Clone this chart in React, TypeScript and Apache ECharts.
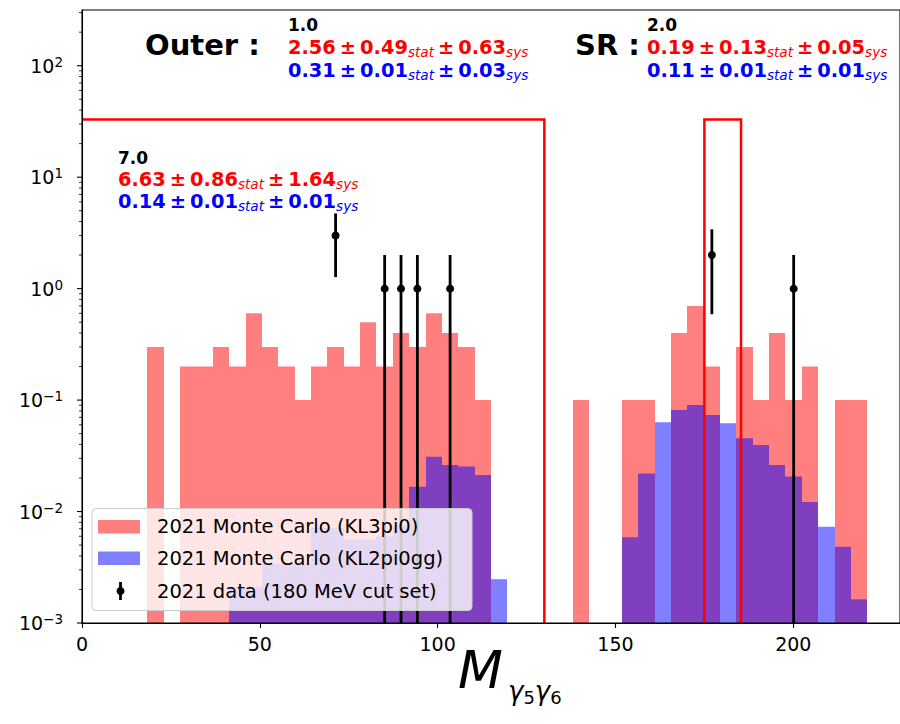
import React, { useEffect, useRef } from "react";
import * as echarts from "echarts";

// ---------- data ----------
const BIN_WIDTH = 4.6; // 50 bins over 0..230
const KL3PI0 = [
  0, 0, 0, 0, 0.3, 0, 0.2, 0.2, 0.3, 0.2,
  0.6, 0.3, 0.2, 0.1, 0.2, 0.3, 0.2, 0.5, 0.2, 0.4,
  0.3, 0.6, 0.4, 0.3, 0.1, 0, 0, 0, 0, 0,
  0.1, 0, 0, 0.1, 0.1, 0, 0.4, 0.7, 0.2, 0,
  0.3, 0.1, 0.4, 0.1, 0.2, 0, 0.1, 0.1, 0, 0,
];
const KL2PI0GG = [
  0, 0, 0, 0, 0, 0, 0, 0, 0, 0.0021,
  0.0021, 0.0034, 0.0034, 0.0034, 0.0071, 0.0071, 0.0056, 0.0056, 0.006, 0.0075,
  0.0167, 0.0311, 0.0262, 0.0253, 0.0213, 0.00247, 0, 0, 0, 0,
  0, 0, 0, 0.00587, 0.022, 0.0632, 0.0815, 0.0904, 0.0735, 0.0619,
  0.0454, 0.0395, 0.0262, 0.0206, 0.0122, 0.00731, 0.00484, 0.00163, 0, 0,
];
const DATA_X = [71.3, 85.1, 89.7, 94.3, 103.5, 177.1, 200.1];
const DATA_Y = [3, 1, 1, 1, 1, 2, 1];
const DATA_ERR = [1.73, 1, 1, 1, 1, 1.41, 1];
const REGIONS = [
  [0, 130],
  [175, 185.3],
];
const REGION_TOP = 33;
const X_MIN = 0;
const X_MAX = 230;
const X_INTERVAL = 50;
const Y_MIN = 0.001;
const Y_MAX = 316.2278;
const Y_MAJOR = [0.001, 0.01, 0.1, 1, 10, 100];
const Y_MINOR_MULT = [2, 3, 4, 5, 6, 7, 8, 9];
const LEGEND_LABELS = [
  "2021 Monte Carlo (KL3pi0)",
  "2021 Monte Carlo (KL2pi0gg)",
  "2021 data (180 MeV cut set)",
];

const FONT = "DejaVu Sans";
const RED_FILL = "rgba(255,0,0,0.5)";
const BLUE_FILL = "rgba(0,0,255,0.5)";

function histData(values: number[]) {
  const out: number[][] = [];
  values.forEach((v, i) => {
    if (v > 0) out.push([i * BIN_WIDTH, (i + 1) * BIN_WIDTH, v]);
  });
  return out;
}

function histSeries(name: string, values: number[], color: string, z: number) {
  return {
    name,
    type: "custom",
    z,
    clip: false,
    encode: { x: [0, 1], y: 2 },
    data: histData(values),
    renderItem: (params: any, api: any) => {
      const p0 = api.coord([api.value(0), api.value(2)]);
      const p1 = api.coord([api.value(1), Y_MIN]);
      const x0 = Math.round(p0[0]);
      const x1 = Math.round(p1[0]);
      return {
        type: "rect",
        shape: { x: x0, y: p0[1], width: x1 - x0, height: p1[1] - p0[1] },
        style: { fill: color },
      };
    },
  };
}

function numberLine(parts: string[], color: string) {
  return {
    text: `{n|${parts[0]}}{pm|±}{n|${parts[1]}}{s|stat}{pm|±}{n|${parts[2]}}{s|sys}`,
    rich: {
      n: { fontFamily: FONT, fontWeight: "bold", fontSize: 19.4, lineHeight: 24, fill: color },
      pm: { fontFamily: FONT, fontWeight: "bold", fontSize: 19.4, lineHeight: 24, fill: color, padding: [0, 4, 0, 4] },
      s: { fontFamily: FONT, fontStyle: "italic", fontSize: 13.6, lineHeight: 12, verticalAlign: "bottom", fill: color },
    },
  };
}

function textEl(x: number, y: number, style: any) {
  return {
    type: "text",
    x,
    y,
    z: 100,
    style: { align: "left", verticalAlign: "top", textAlign: "left", textVerticalAlign: "top", ...style },
  };
}

function plainBold(x: number, y: number, text: string, size: number) {
  return textEl(x, y, {
    text,
    fill: "#000",
    fontFamily: FONT,
    fontWeight: "bold",
    fontSize: size,
    lineHeight: Math.round(size * 1.2),
  });
}

export default function App() {
  const ref = useRef<HTMLDivElement>(null);

  useEffect(() => {
    if (!ref.current) return;
    const chart = echarts.init(ref.current, null, { renderer: "svg" });

    const minorTicks: number[][] = [];
    Y_MAJOR.forEach((d) => {
      Y_MINOR_MULT.forEach((m) => {
        const v = d * m;
        if (v < Y_MAX) minorTicks.push([0, v, 3]);
      });
    });
    const majorTicks = Y_MAJOR.map((v) => [0, v, 5]);

    const option: any = {
      animation: false,
      backgroundColor: "#fff",
      grid: {
        left: 82,
        top: 10,
        width: 821,
        height: 613,
        show: true,
        borderColor: "#000",
        borderWidth: 1.1,
        z: 50,
      },
      xAxis: {
        type: "value",
        min: X_MIN,
        max: X_MAX,
        interval: X_INTERVAL,
        z: 60,
        axisLine: { show: true, lineStyle: { color: "#000", width: 1.1 } },
        axisTick: { show: true, inside: false, length: 5, lineStyle: { color: "#000", width: 1.1 } },
        splitLine: { show: false },
        axisLabel: {
          color: "#000",
          fontFamily: FONT,
          fontSize: 19,
          lineHeight: 20,
          margin: 11,
          showMaxLabel: false,
          formatter: (v: number) => (v % X_INTERVAL === 0 ? String(v) : ""),
        },
      },
      yAxis: {
        type: "log",
        logBase: 10,
        min: Y_MIN,
        max: Y_MAX,
        z: 60,
        axisLine: { show: true, lineStyle: { color: "#000", width: 1.1 } },
        axisTick: { show: false },
        minorTick: { show: false },
        splitLine: { show: false },
        axisLabel: {
          margin: 19,
          formatter: (v: number) => {
            const e = Math.log10(v);
            const r = Math.round(e);
            if (Math.abs(e - r) > 0.01) return "";
            const exp = r < 0 ? "\u2212" + String(-r) : String(r);
            return `{b|10}{s|${exp}}`;
          },
          rich: {
            b: { color: "#000", fontFamily: FONT, fontSize: 19, lineHeight: 22 },
            s: { color: "#000", fontFamily: FONT, fontSize: 13.5, lineHeight: 10, verticalAlign: "top" },
          },
        },
      },
      series: [
        histSeries(LEGEND_LABELS[0], KL3PI0, RED_FILL, 2),
        histSeries(LEGEND_LABELS[1], KL2PI0GG, BLUE_FILL, 3),
        {
          name: "regions",
          type: "custom",
          z: 4,
          clip: false,
          encode: { x: [0, 1], y: 2 },
          data: REGIONS.map((r) => [r[0], r[1], REGION_TOP]),
          renderItem: (params: any, api: any) => {
            const x0v = api.value(0);
            const tl = api.coord([x0v, api.value(2)]);
            const br = api.coord([api.value(1), Y_MIN]);
            const pts: number[][] = [];
            if (x0v > X_MIN) pts.push([tl[0], br[1]]);
            pts.push([tl[0], tl[1]], [br[0], tl[1]], [br[0], br[1]]);
            return {
              type: "polyline",
              shape: { points: pts },
              style: { fill: "none", stroke: "#ff0000", lineWidth: 2.5 },
            };
          },
        },
        {
          name: LEGEND_LABELS[2],
          type: "custom",
          z: 5,
          clip: false,
          encode: { x: 0, y: 1 },
          data: DATA_X.map((x, i) => [x, DATA_Y[i], DATA_ERR[i]]),
          renderItem: (params: any, api: any) => {
            const x = api.value(0);
            const y = api.value(1);
            const e = api.value(2);
            const c = api.coord([x, y]);
            const top = api.coord([x, y + e]);
            const bot = api.coord([x, Math.max(y - e, Y_MIN)]);
            return {
              type: "group",
              children: [
                {
                  type: "line",
                  shape: { x1: c[0], y1: top[1], x2: c[0], y2: bot[1] },
                  style: { stroke: "#000", lineWidth: 2.8 },
                },
                { type: "circle", shape: { cx: c[0], cy: c[1], r: 4 }, style: { fill: "#000" } },
              ],
            };
          },
        },
        {
          name: "yticks",
          type: "custom",
          z: 60,
          clip: false,
          silent: true,
          encode: { x: 0, y: 1 },
          data: [...majorTicks, ...minorTicks],
          renderItem: (params: any, api: any) => {
            const p = api.coord([X_MIN, api.value(1)]);
            const len = api.value(2);
            return {
              type: "line",
              shape: { x1: p[0] - len, y1: p[1], x2: p[0], y2: p[1] },
              style: { stroke: "#000", lineWidth: len > 4 ? 1.1 : 0.8 },
            };
          },
        },
      ],
      graphic: [
        plainBold(145, 27.5, "Outer :", 29),
        plainBold(288, 15, "1.0", 17),
        textEl(288, 35.3, numberLine(["2.56", "0.49", "0.63"], "#ff0000")),
        textEl(288, 58.3, numberLine(["0.31", "0.01", "0.03"], "#0000ff")),
        plainBold(575, 27.5, "SR :", 29),
        plainBold(647, 15, "2.0", 17),
        textEl(647, 35.3, numberLine(["0.19", "0.13", "0.05"], "#ff0000")),
        textEl(647, 58.3, numberLine(["0.11", "0.01", "0.01"], "#0000ff")),
        plainBold(118, 148, "7.0", 17),
        textEl(118, 167.3, numberLine(["6.63", "0.86", "1.64"], "#ff0000")),
        textEl(118, 189.3, numberLine(["0.14", "0.01", "0.01"], "#0000ff")),
        // x label (kept just clear of the "100" tick label)
        textEl(458, 650, {
          text: "M",
          fill: "#000",
          fontFamily: FONT,
          fontStyle: "italic",
          fontSize: 52,
          lineHeight: 40,
        }),
        textEl(508, 678, {
          text: "{g|γ}{d|5}{g|γ}{d|6}",
          rich: {
            g: { fontFamily: FONT, fontStyle: "italic", fontSize: 26, lineHeight: 28, verticalAlign: "top", fill: "#000" },
            d: { fontFamily: FONT, fontSize: 18, lineHeight: 18, padding: [14, 0, 0, 0], verticalAlign: "bottom", fill: "#000" },
          },
        }),
        // legend
        {
          type: "rect",
          z: 100,
          shape: { x: 92, y: 508.5, width: 380, height: 102, r: 4 },
          style: { fill: "rgba(255,255,255,0.8)", stroke: "#cccccc", lineWidth: 1 },
        },
        { type: "rect", z: 101, shape: { x: 98, y: 520, width: 42, height: 13.5 }, style: { fill: RED_FILL } },
        { type: "rect", z: 101, shape: { x: 98, y: 551.5, width: 42, height: 13.5 }, style: { fill: BLUE_FILL } },
        {
          type: "line",
          z: 101,
          shape: { x1: 120.5, y1: 582, x2: 120.5, y2: 600 },
          style: { stroke: "#000", lineWidth: 2.8 },
        },
        { type: "circle", z: 101, shape: { cx: 120.5, cy: 591, r: 4 }, style: { fill: "#000" } },
        ...LEGEND_LABELS.map((t, i) => ({
          type: "text",
          z: 101,
          x: 157,
          y: [526.7, 558.3, 591.7][i],
          style: {
            text: t,
            fill: "#000",
            fontFamily: FONT,
            fontSize: 19.5,
            align: "left",
            verticalAlign: "middle",
            textAlign: "left",
            textVerticalAlign: "middle",
          },
        })),
      ],
    };

    chart.setOption(option);
    return () => chart.dispose();
  }, []);

  return (
    <div
      ref={ref}
      style={{ position: "fixed", left: 0, top: 0, width: 900, height: 724, background: "#fff" }}
    />
  );
}
